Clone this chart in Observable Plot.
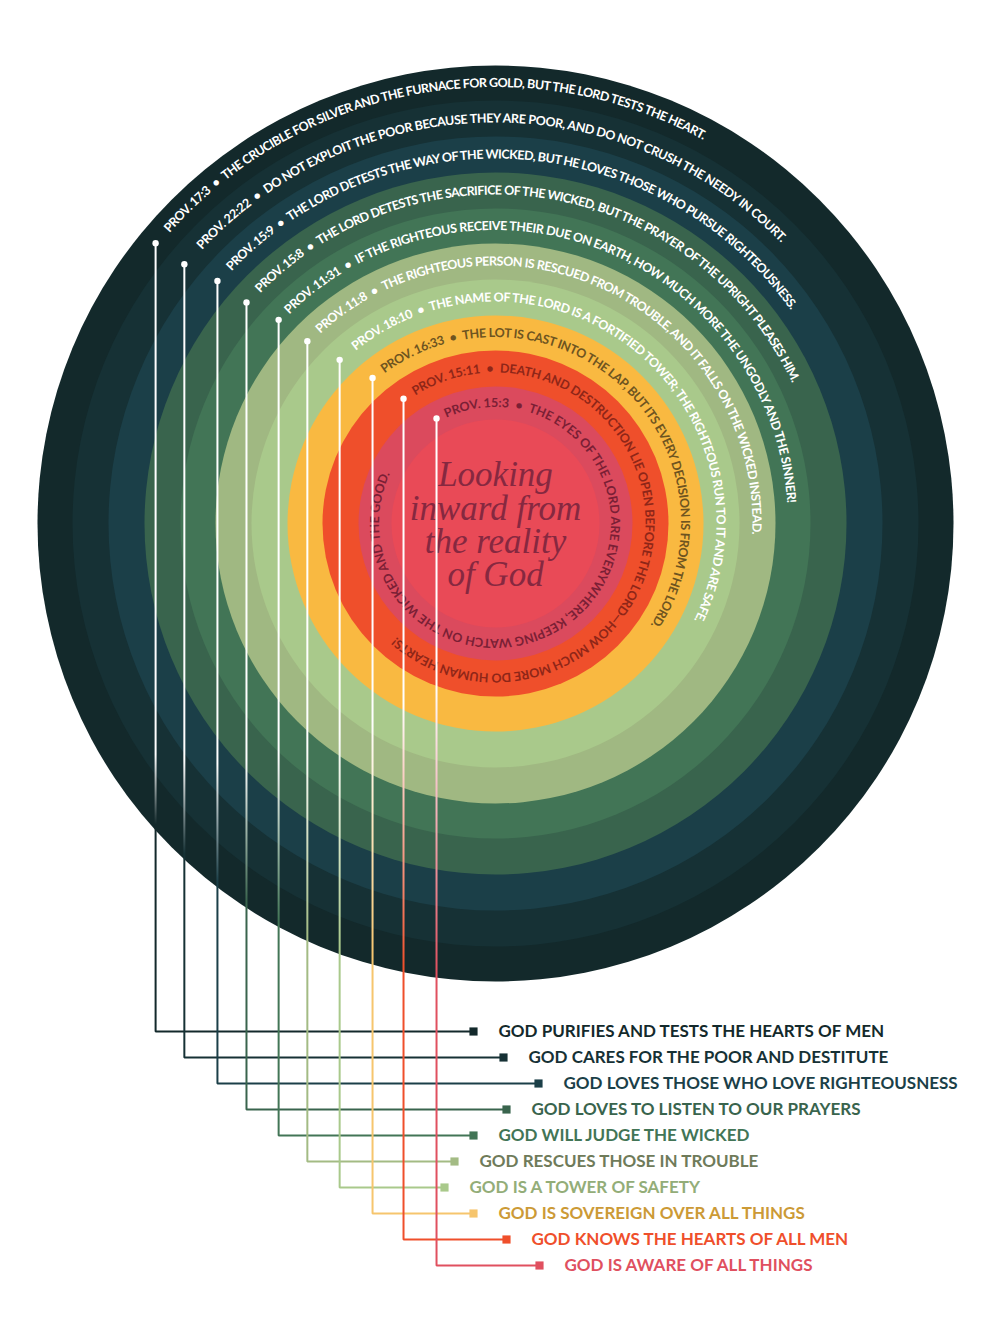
<!DOCTYPE html>
<html>
<head>
<meta charset="utf-8">
<script src="https://cdn.jsdelivr.net/npm/d3@7"></script>
<script src="https://cdn.jsdelivr.net/npm/@observablehq/plot@0.6"></script>
<style>
  html, body { margin: 0; padding: 0; background: #ffffff; }
  #chart svg { display: block; }
</style>
</head>
<body>
<div id="chart"></div>
<script>
// ---------- DATA (outermost ring first) ----------
const refs = ["PROV. 17:3", "PROV. 22:22", "PROV. 15:9", "PROV. 15:8", "PROV. 11:31",
              "PROV. 11:8", "PROV. 18:10", "PROV. 16:33", "PROV. 15:11", "PROV. 15:3"];
const verses = [
  "THE CRUCIBLE FOR SILVER AND THE FURNACE FOR GOLD, BUT THE LORD TESTS THE HEART.",
  "DO NOT EXPLOIT THE POOR BECAUSE THEY ARE POOR, AND DO NOT CRUSH THE NEEDY IN COURT.",
  "THE LORD DETESTS THE WAY OF THE WICKED, BUT HE LOVES THOSE WHO PURSUE RIGHTEOUSNESS.",
  "THE LORD DETESTS THE SACRIFICE OF THE WICKED, BUT THE PRAYER OF THE UPRIGHT PLEASES HIM.",
  "IF THE RIGHTEOUS RECEIVE THEIR DUE ON EARTH, HOW MUCH MORE THE UNGODLY AND THE SINNER!",
  "THE RIGHTEOUS PERSON IS RESCUED FROM TROUBLE, AND IT FALLS ON THE WICKED INSTEAD.",
  "THE NAME OF THE LORD IS A FORTIFIED TOWER; THE RIGHTEOUS RUN TO IT AND ARE SAFE.",
  "THE LOT IS CAST INTO THE LAP, BUT ITS EVERY DECISION IS FROM THE LORD.",
  "DEATH AND DESTRUCTION LIE OPEN BEFORE THE LORD\u2014HOW MUCH MORE DO HUMAN HEARTS!",
  "THE EYES OF THE LORD ARE EVERYWHERE, KEEPING WATCH ON THE WICKED AND THE GOOD."
];
const themes = [
  "GOD PURIFIES AND TESTS THE HEARTS OF MEN",
  "GOD CARES FOR THE POOR AND DESTITUTE",
  "GOD LOVES THOSE WHO LOVE RIGHTEOUSNESS",
  "GOD LOVES TO LISTEN TO OUR PRAYERS",
  "GOD WILL JUDGE THE WICKED",
  "GOD RESCUES THOSE IN TROUBLE",
  "GOD IS A TOWER OF SAFETY",
  "GOD IS SOVEREIGN OVER ALL THINGS",
  "GOD KNOWS THE HEARTS OF ALL MEN",
  "GOD IS AWARE OF ALL THINGS"
];
const centerLines = ["Looking", "inward from", "the reality", "of God"];
// ring outer radii and inner core radius (chart units)
const ringOuter = [458, 423, 387, 351, 315, 280, 244, 208, 173, 137];
const coreRadius = 104;
// verse text span along each ring (degrees clockwise from 12 o'clock)
const textStart = [-48.3, -47.0, -46.3, -45.6, -44.6, -42.7, -38.9, -36.4, -32.0, -24.8];
const textEnd   = [28.7, 46.1, 54.5, 65.2, 86.5, 92.7, 116.8, 123.8, 220.8, 296.0];
// angle of the pin where each leader starts
const pinAngle  = [-50.5, -50.2, -48.9, -48.4, -46.8, -45.9, -43.6, -40.2, -36.4, -29.3];

// ---------- STYLE / LAYOUT ----------
const ringColors  = ["#13292b", "#163135", "#1b3f48", "#39644d", "#427556",
                     "#a0b882", "#a9c98b", "#f9b941", "#ef4f2b", "#db4a5d"];
const coreColor   = "#e94a57";
const verseColors = ["#ffffff", "#ffffff", "#ffffff", "#ffffff", "#ffffff",
                     "#ffffff", "#ffffff", "#6e5420", "#8e2618", "#7a1f35"];
const lineColors  = ["#13292b", "#163135", "#1b3f48", "#39644d", "#427556",
                     "#a3bb84", "#a9c98b", "#f6c56d", "#ef4f2b", "#e0505f"];
const labelColors = ["#13292b", "#163135", "#1b3f48", "#39644d", "#427556",
                     "#6f7b5a", "#93ad78", "#cc9a36", "#ef4f2b", "#e0505f"];
const squareOffset = [-22, 8, 43, 11, -22, -41, -51, -22, 11, 44];
const rowTop = -508, rowGap = 26, labelGap = 25;
const FS = 12.5;          // verse font size
const FONT = "Lato";

const W = 1000, H = 1333;
const CX = 495, CY = 523; // where the ring centre sits in the page

const innerOf = i => (i + 1 < ringOuter.length ? ringOuter[i + 1] : coreRadius);
const midOf = i => (ringOuter[i] + innerOf(i)) / 2;
const rad = deg => deg * Math.PI / 180;

const ringData = ringOuter.map((r, i) => ({radius: r, color: ringColors[i]}))
  .concat([{radius: coreRadius, color: coreColor}]);

const leaders = refs.map((ref, i) => {
  const m = midOf(i), a = rad(pinAngle[i]);
  return {i, x: m * Math.sin(a), y: m * Math.cos(a), rowY: rowTop - i * rowGap,
          sqX: squareOffset[i], lineColor: lineColors[i], labelColor: labelColors[i], theme: themes[i]};
});
const leaderPath = leaders.flatMap(d => [
  {id: d.i, x: d.x, y: d.y},
  {id: d.i, x: d.x, y: d.rowY},
  {id: d.i, x: d.sqX, y: d.rowY}
]);

const measureCtx = document.createElement("canvas").getContext("2d");

// custom render: curved verse text + leader gradients
function ringTextMark(index, scales) {
  const ns = "http://www.w3.org/2000/svg";
  const g = document.createElementNS(ns, "g");
  const defs = document.createElementNS(ns, "defs");
  g.appendChild(defs);
  const cx = scales.x(0), cy = scales.y(0);
  const k = Math.abs(scales.x(1) - scales.x(0));
  refs.forEach((ref, i) => {
    const rb = midOf(i) * k - 0.36 * FS;
    const a0 = rad(textStart[i]), a1 = rad(textEnd[i] + 12);
    const p0 = [cx + rb * Math.sin(a0), cy - rb * Math.cos(a0)];
    const p1 = [cx + rb * Math.sin(a1), cy - rb * Math.cos(a1)];
    const large = (a1 - a0) > Math.PI ? 1 : 0;
    const path = document.createElementNS(ns, "path");
    path.setAttribute("id", "ring-arc-" + i);
    path.setAttribute("d", `M${p0[0]},${p0[1]}A${rb},${rb} 0 ${large} 1 ${p1[0]},${p1[1]}`);
    path.setAttribute("fill", "none");
    defs.appendChild(path);
    const str = ref + "\u2002\u2022\u2002" + verses[i];
    measureCtx.font = `700 ${FS}px ${FONT}`;
    const nat = measureCtx.measureText(str).width;
    const L = rb * rad(textEnd[i] - textStart[i]);
    const ls = (L - nat) / (str.length - 1);
    const text = document.createElementNS(ns, "text");
    text.setAttribute("font-family", FONT);
    text.setAttribute("font-size", FS);
    text.setAttribute("font-weight", 700);
    text.setAttribute("text-anchor", "start");
    text.setAttribute("fill", verseColors[i]);
    text.setAttribute("letter-spacing", ls.toFixed(3));
    const tp = document.createElementNS(ns, "textPath");
    tp.setAttribute("href", "#ring-arc-" + i);
    tp.setAttribute("startOffset", "0");
    tp.setAttribute("text-anchor", "start");
    tp.textContent = str;
    text.appendChild(tp);
    g.appendChild(text);
  });
  // gradients for leader lines: white inside the disc fading to the theme colour at the rim
  const R0 = ringOuter[0];
  leaders.forEach(d => {
    const edgeY = -Math.sqrt(R0 * R0 - d.x * d.x);
    const y2 = scales.y(edgeY) - 6;
    const y1 = y2 - (70 + 24 * d.i) * k;
    const lg = document.createElementNS(ns, "linearGradient");
    lg.setAttribute("id", "lead-grad-" + d.i);
    lg.setAttribute("gradientUnits", "userSpaceOnUse");
    lg.setAttribute("x1", scales.x(d.x)); lg.setAttribute("x2", scales.x(d.x));
    lg.setAttribute("y1", y1); lg.setAttribute("y2", y2);
    const s0 = document.createElementNS(ns, "stop");
    s0.setAttribute("offset", "0"); s0.setAttribute("stop-color", "#ffffff");
    const s1 = document.createElementNS(ns, "stop");
    s1.setAttribute("offset", "1"); s1.setAttribute("stop-color", d.lineColor);
    lg.appendChild(s0); lg.appendChild(s1);
    defs.appendChild(lg);
  });
  return g;
}

const chart = Plot.plot({
  width: W,
  height: H,
  margin: 0,
  x: {domain: [-CX, W - CX], axis: null},
  y: {domain: [CY - H, CY], axis: null},
  r: {type: "identity"},
  color: {type: "identity"},
  style: {background: "#ffffff"},
  marks: [
    Plot.dot(ringData, {x: () => 0, y: () => 0, r: "radius", fill: "color", stroke: null}),
    ringTextMark,
    Plot.text([centerLines.join("\n")], {
      x: () => 0, y: () => -2, text: d => d,
      fontFamily: "Liberation Serif", fontStyle: "italic", fontSize: 35,
      lineHeight: 0.95, fill: "#862840", textAnchor: "middle", lineAnchor: "middle"
    }),
    Plot.line(leaderPath, {
      x: "x", y: "y", z: "id", stroke: d => `url(#lead-grad-${d.id})`,
      strokeWidth: 2, strokeLinejoin: "miter", strokeLinecap: "butt", curve: "linear"
    }),
    Plot.dot(leaders, {x: "x", y: "y", r: 3.2, fill: "#ffffff"}),
    Plot.dot(leaders, {x: "sqX", y: "rowY", symbol: "square", r: 4.6, fill: "lineColor"}),
    Plot.text(leaders, {
      x: d => d.sqX + labelGap, y: "rowY", text: "theme", fill: "labelColor",
      textAnchor: "start", fontFamily: FONT, fontWeight: 700, fontSize: 17
    })
  ]
});
document.getElementById("chart").appendChild(chart);
</script>
</body>
</html>
